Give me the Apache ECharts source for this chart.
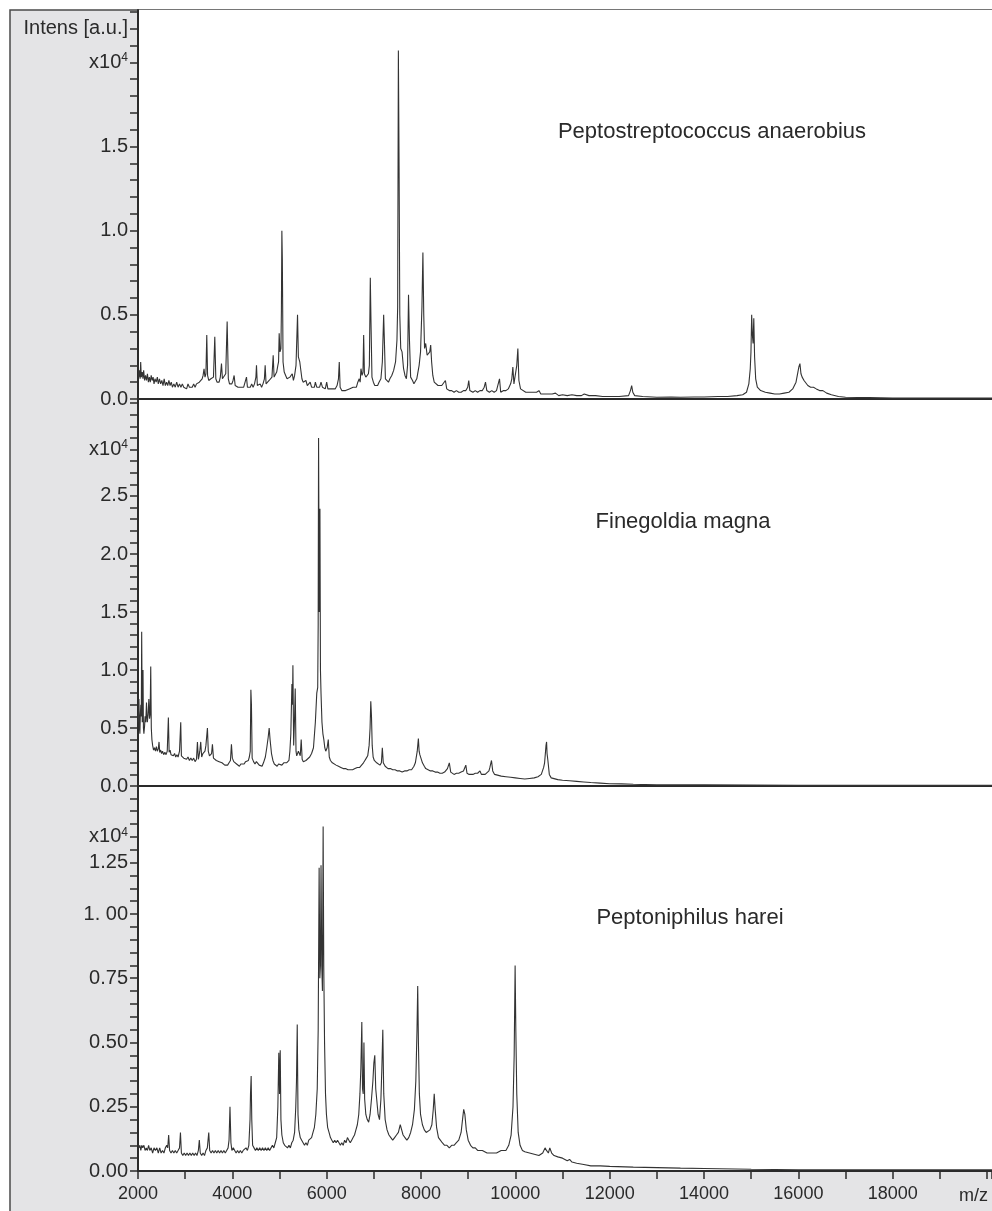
<!DOCTYPE html>
<html><head><meta charset="utf-8">
<script src="https://cdn.jsdelivr.net/npm/echarts@6/dist/echarts.min.js"></script>
<style>html,body{margin:0;padding:0;background:#fff}#c{width:992px;height:1211px}</style>
</head><body><div id="c"></div>
<script>
// intensities in units of 1e4 a.u., m/z on x
const speciesNames = ['Peptostreptococcus anaerobius', 'Finegoldia magna', 'Peptoniphilus harei'];

const spectrum1 = [[2000,0.20],[2015,0.13],[2030,0.17],[2045,0.12],[2057,0.22],[2070,0.13],[2090,0.16],[2105,0.12],[2120,0.17],[2140,0.11],[2160,0.14],[2180,0.11],[2200,0.15],[2220,0.10],[2240,0.13],[2260,0.10],[2280,0.14],[2300,0.11],[2320,0.13],[2340,0.09],[2360,0.12],[2385,0.10],[2410,0.13],[2430,0.09],[2455,0.12],[2480,0.09],[2505,0.11],[2530,0.08],[2555,0.12],[2580,0.08],[2605,0.10],[2630,0.08],[2655,0.11],[2680,0.08],[2705,0.10],[2730,0.07],[2760,0.09],[2790,0.07],[2820,0.10],[2850,0.07],[2880,0.09],[2910,0.07],[2940,0.09],[2970,0.07],[3000,0.08],[3030,0.06],[3060,0.09],[3090,0.07],[3120,0.08],[3150,0.07],[3180,0.09],[3210,0.07],[3240,0.09],[3270,0.08],[3300,0.10],[3330,0.09],[3360,0.12],[3380,0.14],[3400,0.18],[3420,0.13],[3440,0.15],[3458,0.38],[3475,0.14],[3500,0.11],[3520,0.10],[3545,0.12],[3570,0.11],[3600,0.13],[3628,0.37],[3650,0.12],[3675,0.10],[3700,0.11],[3720,0.10],[3745,0.13],[3770,0.21],[3790,0.12],[3820,0.11],[3860,0.15],[3890,0.46],[3915,0.12],[3940,0.09],[3965,0.10],[3990,0.09],[4015,0.11],[4038,0.14],[4060,0.08],[4090,0.09],[4120,0.07],[4150,0.08],[4180,0.07],[4210,0.08],[4240,0.07],[4270,0.08],[4300,0.13],[4320,0.07],[4350,0.08],[4380,0.07],[4410,0.09],[4440,0.07],[4470,0.09],[4500,0.13],[4512,0.20],[4530,0.08],[4560,0.07],[4590,0.09],[4620,0.07],[4650,0.09],[4680,0.12],[4696,0.20],[4715,0.09],[4745,0.10],[4780,0.11],[4810,0.10],[4840,0.13],[4866,0.26],[4885,0.13],[4910,0.14],[4940,0.16],[4965,0.20],[4980,0.22],[4993,0.39],[5010,0.28],[5030,0.30],[5040,0.52],[5050,1.00],[5060,0.83],[5075,0.22],[5100,0.16],[5130,0.14],[5160,0.12],[5190,0.11],[5220,0.13],[5245,0.12],[5270,0.15],[5295,0.11],[5320,0.14],[5350,0.20],[5382,0.50],[5400,0.25],[5430,0.22],[5454,0.23],[5475,0.12],[5500,0.10],[5530,0.09],[5560,0.11],[5590,0.08],[5620,0.09],[5650,0.10],[5680,0.07],[5710,0.08],[5740,0.07],[5760,0.10],[5790,0.07],[5820,0.08],[5850,0.07],[5880,0.10],[5910,0.07],[5940,0.08],[5970,0.06],[6000,0.10],[6025,0.06],[6060,0.05],[6100,0.06],[6140,0.05],[6180,0.06],[6220,0.08],[6250,0.12],[6267,0.22],[6285,0.07],[6320,0.05],[6360,0.06],[6400,0.05],[6440,0.05],[6480,0.06],[6520,0.05],[6560,0.07],[6600,0.08],[6630,0.07],[6660,0.10],[6690,0.12],[6710,0.10],[6727,0.18],[6750,0.14],[6770,0.16],[6784,0.38],[6800,0.15],[6830,0.13],[6860,0.12],[6885,0.15],[6905,0.20],[6925,0.72],[6940,0.45],[6960,0.13],[6990,0.10],[7020,0.08],[7050,0.09],[7080,0.08],[7110,0.10],[7150,0.12],[7180,0.22],[7208,0.50],[7225,0.33],[7245,0.12],[7280,0.11],[7310,0.10],[7340,0.12],[7380,0.14],[7420,0.17],[7460,0.22],[7490,0.35],[7505,0.55],[7520,2.07],[7535,1.38],[7550,0.50],[7570,0.30],[7598,0.28],[7630,0.18],[7660,0.14],[7690,0.12],[7715,0.20],[7735,0.62],[7755,0.35],[7780,0.13],[7820,0.11],[7850,0.09],[7880,0.10],[7910,0.12],[7960,0.20],[7990,0.28],[8020,0.55],[8040,0.87],[8058,0.50],[8075,0.30],[8099,0.33],[8130,0.26],[8160,0.25],[8185,0.28],[8205,0.32],[8225,0.22],[8250,0.14],[8280,0.10],[8320,0.09],[8360,0.08],[8400,0.07],[8440,0.08],[8480,0.08],[8517,0.11],[8545,0.06],[8600,0.05],[8650,0.05],[8700,0.04],[8750,0.05],[8800,0.04],[8850,0.04],[8900,0.05],[8950,0.05],[8990,0.07],[9012,0.11],[9035,0.05],[9100,0.04],[9150,0.05],[9200,0.04],[9250,0.05],[9300,0.05],[9340,0.07],[9367,0.10],[9395,0.05],[9450,0.04],[9500,0.05],[9550,0.04],[9600,0.05],[9640,0.06],[9664,0.12],[9690,0.04],[9750,0.05],[9800,0.05],[9850,0.06],[9900,0.09],[9925,0.12],[9947,0.19],[9970,0.09],[10000,0.10],[10030,0.20],[10053,0.30],[10075,0.11],[10110,0.06],[10150,0.05],[10220,0.04],[10300,0.04],[10380,0.04],[10450,0.04],[10500,0.05],[10540,0.03],[10620,0.03],[10700,0.03],[10780,0.03],[10850,0.035],[10875,0.04],[10920,0.02],[11000,0.025],[11100,0.02],[11200,0.025],[11300,0.02],[11400,0.02],[11460,0.03],[11500,0.03],[11560,0.02],[11700,0.02],[11850,0.015],[12000,0.015],[12200,0.015],[12400,0.02],[12440,0.05],[12466,0.08],[12490,0.04],[12530,0.02],[12700,0.015],[13000,0.01],[13300,0.012],[13500,0.01],[13800,0.012],[14000,0.012],[14300,0.015],[14500,0.015],[14700,0.02],[14820,0.025],[14900,0.04],[14950,0.09],[14980,0.18],[14995,0.28],[15010,0.50],[15025,0.38],[15040,0.33],[15055,0.48],[15072,0.25],[15095,0.12],[15130,0.07],[15200,0.05],[15300,0.04],[15400,0.035],[15500,0.03],[15600,0.03],[15700,0.035],[15800,0.04],[15880,0.06],[15950,0.10],[15990,0.16],[16010,0.19],[16033,0.21],[16055,0.15],[16080,0.13],[16120,0.11],[16160,0.10],[16200,0.08],[16260,0.07],[16320,0.07],[16380,0.06],[16450,0.05],[16520,0.05],[16600,0.035],[16700,0.025],[16850,0.015],[17000,0.01],[17500,0.008],[18000,0.005],[20000,0.005],[20200,0.005]];

const spectrum2 = [[2000,0.55],[2010,0.62],[2020,0.75],[2030,0.50],[2040,0.45],[2050,0.62],[2060,0.70],[2070,0.60],[2078,1.33],[2090,0.55],[2100,0.62],[2106,1.00],[2115,0.50],[2125,0.45],[2140,0.52],[2150,0.60],[2165,0.55],[2180,0.72],[2190,0.60],[2198,0.55],[2215,0.62],[2230,0.75],[2245,0.58],[2258,0.62],[2270,1.03],[2282,0.50],[2295,0.40],[2310,0.35],[2330,0.31],[2350,0.33],[2370,0.30],[2390,0.34],[2410,0.30],[2430,0.32],[2446,0.38],[2460,0.29],[2480,0.31],[2500,0.28],[2520,0.30],[2545,0.27],[2570,0.29],[2595,0.27],[2620,0.30],[2644,0.59],[2660,0.29],[2680,0.31],[2700,0.27],[2725,0.28],[2750,0.26],[2775,0.28],[2800,0.25],[2825,0.27],[2850,0.25],[2880,0.30],[2906,0.55],[2920,0.26],[2945,0.27],[2970,0.24],[3000,0.25],[3030,0.23],[3060,0.25],[3090,0.22],[3120,0.24],[3150,0.22],[3180,0.24],[3210,0.21],[3240,0.23],[3260,0.38],[3280,0.23],[3295,0.26],[3310,0.30],[3330,0.38],[3350,0.25],[3375,0.28],[3400,0.27],[3420,0.30],[3440,0.35],[3472,0.50],[3490,0.30],[3515,0.26],[3540,0.25],[3560,0.28],[3578,0.36],[3600,0.24],[3630,0.23],[3660,0.22],[3690,0.23],[3720,0.21],[3750,0.22],[3780,0.20],[3810,0.21],[3840,0.18],[3870,0.19],[3900,0.18],[3930,0.20],[3960,0.22],[3981,0.36],[4000,0.24],[4030,0.21],[4060,0.20],[4090,0.19],[4120,0.18],[4150,0.17],[4180,0.19],[4210,0.18],[4250,0.19],[4280,0.21],[4310,0.20],[4340,0.22],[4360,0.25],[4380,0.30],[4393,0.83],[4405,0.70],[4420,0.24],[4450,0.21],[4480,0.19],[4510,0.21],[4540,0.20],[4570,0.18],[4600,0.19],[4630,0.17],[4660,0.20],[4700,0.25],[4730,0.33],[4760,0.42],[4781,0.50],[4800,0.40],[4830,0.28],[4860,0.22],[4890,0.19],[4920,0.18],[4950,0.17],[4980,0.19],[5010,0.18],[5050,0.18],[5090,0.20],[5120,0.19],[5150,0.20],[5180,0.21],[5200,0.22],[5220,0.30],[5240,0.45],[5263,0.88],[5275,0.70],[5284,1.04],[5300,0.35],[5320,0.60],[5333,0.84],[5350,0.30],[5365,0.26],[5380,0.25],[5400,0.30],[5420,0.28],[5440,0.26],[5460,0.40],[5480,0.23],[5505,0.21],[5530,0.20],[5560,0.22],[5600,0.23],[5640,0.25],[5680,0.28],[5720,0.33],[5760,0.55],[5790,0.80],[5810,0.85],[5820,1.40],[5828,3.00],[5843,1.50],[5857,2.39],[5868,1.00],[5880,0.80],[5900,0.55],[5920,0.45],[5940,0.40],[5960,0.33],[5980,0.30],[6010,0.33],[6034,0.40],[6055,0.25],[6080,0.22],[6120,0.20],[6160,0.19],[6200,0.18],[6250,0.17],[6300,0.16],[6350,0.15],[6400,0.15],[6450,0.14],[6500,0.14],[6550,0.14],[6600,0.15],[6650,0.16],[6700,0.16],[6740,0.18],[6780,0.20],[6810,0.22],[6840,0.24],[6870,0.26],[6900,0.35],[6920,0.50],[6935,0.73],[6950,0.60],[6965,0.35],[6985,0.25],[7010,0.22],[7060,0.20],[7100,0.19],[7130,0.18],[7160,0.20],[7180,0.33],[7200,0.20],[7240,0.17],[7300,0.15],[7350,0.15],[7400,0.14],[7450,0.14],[7500,0.13],[7550,0.13],[7600,0.12],[7650,0.13],[7700,0.13],[7750,0.14],[7800,0.14],[7850,0.17],[7880,0.20],[7920,0.30],[7944,0.41],[7960,0.30],[7975,0.27],[8000,0.28],[8030,0.20],[8070,0.17],[8100,0.15],[8150,0.14],[8200,0.13],[8250,0.13],[8300,0.12],[8350,0.12],[8400,0.11],[8450,0.11],[8500,0.12],[8560,0.15],[8600,0.20],[8630,0.12],[8660,0.11],[8700,0.10],[8750,0.11],[8800,0.11],[8850,0.12],[8900,0.13],[8930,0.16],[8950,0.18],[8975,0.11],[9020,0.10],[9100,0.10],[9150,0.11],[9200,0.11],[9250,0.13],[9280,0.10],[9320,0.09],[9360,0.10],[9400,0.10],[9440,0.13],[9460,0.16],[9494,0.22],[9520,0.13],[9560,0.10],[9600,0.09],[9700,0.085],[9800,0.08],[9900,0.075],[10000,0.07],[10100,0.065],[10200,0.06],[10300,0.065],[10400,0.07],[10480,0.08],[10550,0.10],[10600,0.16],[10620,0.20],[10640,0.30],[10650,0.35],[10662,0.38],[10672,0.28],[10690,0.22],[10720,0.10],[10760,0.07],[10800,0.06],[10900,0.055],[11000,0.05],[11150,0.045],[11300,0.04],[11450,0.035],[11600,0.03],[11800,0.025],[12000,0.02],[12250,0.018],[12500,0.015],[13000,0.01],[14000,0.01],[16000,0.005],[20000,0.005],[20200,0.005]];

const spectrum3 = [[2000,0.10],[2020,0.09],[2040,0.10],[2060,0.08],[2080,0.10],[2100,0.09],[2125,0.10],[2150,0.08],[2175,0.09],[2200,0.08],[2225,0.10],[2250,0.08],[2280,0.09],[2310,0.07],[2340,0.09],[2370,0.08],[2400,0.09],[2430,0.07],[2460,0.09],[2490,0.07],[2520,0.08],[2550,0.07],[2580,0.09],[2610,0.10],[2630,0.09],[2650,0.14],[2670,0.08],[2700,0.07],[2730,0.08],[2760,0.07],[2790,0.08],[2820,0.07],[2850,0.08],[2880,0.09],[2900,0.15],[2920,0.07],[2950,0.06],[2980,0.07],[3010,0.06],[3040,0.07],[3070,0.06],[3100,0.07],[3130,0.06],[3160,0.07],[3190,0.06],[3220,0.07],[3250,0.06],[3280,0.08],[3300,0.12],[3320,0.07],[3350,0.06],[3380,0.07],[3410,0.06],[3440,0.08],[3470,0.09],[3500,0.15],[3520,0.08],[3550,0.07],[3580,0.08],[3610,0.07],[3640,0.08],[3670,0.07],[3700,0.08],[3730,0.07],[3760,0.08],[3790,0.07],[3820,0.08],[3850,0.07],[3880,0.08],[3910,0.09],[3930,0.12],[3950,0.25],[3970,0.11],[3990,0.08],[4020,0.09],[4050,0.08],[4080,0.07],[4110,0.08],[4140,0.07],[4170,0.08],[4200,0.07],[4230,0.08],[4260,0.08],[4290,0.09],[4320,0.08],[4350,0.10],[4375,0.20],[4385,0.30],[4399,0.37],[4412,0.20],[4430,0.10],[4460,0.09],[4490,0.08],[4520,0.09],[4550,0.08],[4580,0.09],[4610,0.08],[4640,0.09],[4670,0.08],[4700,0.09],[4730,0.08],[4760,0.09],[4790,0.08],[4820,0.09],[4850,0.10],[4880,0.09],[4910,0.11],[4940,0.13],[4965,0.25],[4985,0.46],[5000,0.30],[5015,0.47],[5030,0.20],[5050,0.14],[5080,0.11],[5110,0.10],[5140,0.10],[5170,0.09],[5200,0.10],[5230,0.09],[5260,0.11],[5290,0.12],[5320,0.15],[5345,0.25],[5360,0.35],[5376,0.57],[5392,0.22],[5410,0.16],[5440,0.13],[5470,0.12],[5500,0.11],[5530,0.10],[5560,0.11],[5590,0.10],[5620,0.12],[5650,0.12],[5680,0.13],[5710,0.15],[5740,0.17],[5770,0.22],[5800,0.32],[5820,0.55],[5840,1.18],[5855,0.75],[5868,0.80],[5880,1.19],[5896,0.80],[5910,0.70],[5925,1.34],[5938,0.80],[5955,0.50],[5975,0.30],[5995,0.22],[6020,0.17],[6050,0.15],[6080,0.13],[6110,0.12],[6140,0.11],[6170,0.12],[6200,0.11],[6230,0.12],[6260,0.11],[6290,0.10],[6320,0.11],[6350,0.10],[6380,0.12],[6410,0.11],[6440,0.13],[6470,0.12],[6500,0.11],[6530,0.12],[6560,0.13],[6590,0.14],[6620,0.16],[6650,0.18],[6680,0.22],[6705,0.30],[6725,0.40],[6745,0.58],[6760,0.32],[6775,0.30],[6790,0.50],[6805,0.28],[6830,0.22],[6860,0.20],[6890,0.19],[6920,0.22],[6950,0.28],[6980,0.35],[7000,0.42],[7020,0.45],[7040,0.32],[7060,0.28],[7090,0.22],[7120,0.20],[7150,0.28],[7170,0.40],[7190,0.55],[7210,0.30],[7240,0.20],[7280,0.16],[7320,0.14],[7360,0.13],[7400,0.12],[7440,0.13],[7480,0.14],[7520,0.15],[7560,0.18],[7590,0.16],[7620,0.14],[7660,0.13],[7700,0.12],[7740,0.13],[7780,0.15],[7820,0.18],[7860,0.24],[7890,0.35],[7915,0.55],[7930,0.72],[7945,0.50],[7965,0.30],[7990,0.22],[8030,0.18],[8070,0.16],[8110,0.15],[8150,0.15],[8190,0.16],[8230,0.18],[8260,0.24],[8280,0.30],[8300,0.24],[8330,0.17],[8370,0.13],[8410,0.12],[8450,0.11],[8500,0.10],[8550,0.10],[8600,0.09],[8650,0.10],[8700,0.10],[8750,0.11],[8800,0.12],[8850,0.15],[8880,0.20],[8905,0.24],[8930,0.22],[8960,0.16],[9000,0.12],[9050,0.10],[9100,0.09],[9150,0.09],[9200,0.08],[9300,0.08],[9400,0.07],[9500,0.07],[9600,0.07],[9700,0.08],[9800,0.08],[9860,0.10],[9910,0.14],[9950,0.25],[9975,0.45],[9995,0.80],[10010,0.55],[10030,0.30],[10060,0.15],[10100,0.10],[10150,0.08],[10200,0.075],[10300,0.07],[10400,0.065],[10500,0.06],[10580,0.07],[10630,0.09],[10660,0.08],[10700,0.07],[10730,0.09],[10770,0.07],[10820,0.06],[10900,0.055],[11000,0.05],[11100,0.04],[11150,0.045],[11200,0.035],[11300,0.03],[11450,0.025],[11600,0.02],[11800,0.02],[12000,0.018],[12500,0.015],[13000,0.013],[13500,0.011],[14000,0.01],[15000,0.007],[16000,0.005],[20000,0.005],[20200,0.005]];

// axis ticks / labels (values in 1e4 units)
const yTicks1 = [0,0.1,0.2,0.3,0.4,0.5,0.6,0.7,0.8,0.9,1.0,1.1,1.2,1.3,1.4,1.5,1.6,1.7,1.8,1.9,2.0,2.1,2.2,2.3];
const yLabelVals1 = [0,0.5,1.0,1.5,2.0,2.2];
const yLabelText1 = ['0.0','0.5','1.0','1.5','{a|x10}{s|4}','Intens [a.u.]'];
const yTicks2 = [0,0.1,0.2,0.3,0.4,0.5,0.6,0.7,0.8,0.9,1.0,1.1,1.2,1.3,1.4,1.5,1.6,1.7,1.8,1.9,2.0,2.1,2.2,2.3,2.4,2.5,2.6,2.7,2.8,2.9,3.0,3.1,3.2,3.3];
const yLabelVals2 = [0,0.5,1.0,1.5,2.0,2.5,2.9];
const yLabelText2 = ['0.0','0.5','1.0','1.5','2.0','2.5','{a|x10}{s|4}'];
const yTicks3 = [0,0.05,0.1,0.15,0.2,0.25,0.3,0.35,0.4,0.45,0.5,0.55,0.6,0.65,0.7,0.75,0.8,0.85,0.9,0.95,1.0,1.05,1.1,1.15,1.2,1.25,1.3,1.35,1.4,1.45];
const yLabelVals3 = [0,0.25,0.5,0.75,1.0,1.2,1.3];
const yLabelText3 = ['0.00','0.25','0.50','0.75','1. 00','1.25','{a|x10}{s|4}'];
const xLabelVals = [2000,4000,6000,8000,10000,12000,14000,16000,18000];
const xAxisName = 'm/z';

const FONT = 'Liberation Sans, Arial, Helvetica, sans-serif';
const INK = '#2a2a2a';

const grids = [
  {left:138, right:0, top:10, height:389},
  {left:138, right:0, top:399, height:387},
  {left:138, right:0, top:786, height:385}
];
const yMax = [2.311, 3.336, 1.498];
const xMin = 2000, xMax = 20105;

function yAxisFor(i, ticks, vals, texts) {
  return {
    type:'value', gridIndex:i, min:0, max:yMax[i],
    splitLine:{show:false},
    axisLine:{show:true, lineStyle:{color:INK, width:2}},
    axisTick:{show:true, inside:false, length:8, customValues:ticks, lineStyle:{color:INK, width:1.5}},
    axisLabel:{show:true, customValues:vals, margin:10, color:INK, fontSize:20, fontFamily:FONT,
      formatter:function(v){ for (let k=0;k<vals.length;k++){ if (Math.abs(vals[k]-v)<1e-6) return texts[k]; } return ''; },
      rich:{ a:{fontSize:20, fontFamily:FONT, color:INK}, s:{fontSize:12, fontFamily:FONT, color:INK, verticalAlign:'top', padding:[0,0,9,0]} }
    }
  };
}

function xAxisFor(i, showLabels) {
  return {
    type:'value', gridIndex:i, min:xMin, max:xMax, interval:1000,
    splitLine:{show:false},
    axisLine:{show:true, onZero:false, lineStyle:{color:INK, width:2}},
    axisTick:{show:showLabels, length:8, lineStyle:{color:INK, width:1.5}},
    axisLabel:{show:showLabels, customValues:xLabelVals, margin:14, color:INK, fontSize:18, fontFamily:FONT,
      formatter:function(v){ return String(Math.round(v)); }}
  };
}

const chart = echarts.init(document.getElementById('c'), null, {renderer:'canvas'});
chart.setOption({
  animation:false,
  backgroundColor:'#ffffff',
  graphic:[
    {type:'rect', z:-10, shape:{x:10, y:10, width:1000, height:1230}, style:{fill:'#e4e4e6', stroke:'#4a4a4a', lineWidth:1.5}},
    {type:'text', z:10, style:{text:speciesNames[0], x:712, y:132, fill:INK, font:'22px ' + FONT, textAlign:'center', textVerticalAlign:'middle'}},
    {type:'text', z:10, style:{text:speciesNames[1], x:683, y:522, fill:INK, font:'22px ' + FONT, textAlign:'center', textVerticalAlign:'middle'}},
    {type:'text', z:10, style:{text:speciesNames[2], x:690, y:918, fill:INK, font:'22px ' + FONT, textAlign:'center', textVerticalAlign:'middle'}},
    {type:'text', z:10, style:{text:xAxisName, x:988, y:1196, fill:INK, font:'18px ' + FONT, textAlign:'right', textVerticalAlign:'middle'}}
  ],
  grid: grids.map(g => Object.assign({show:true, backgroundColor:'#ffffff', borderWidth:0}, g)),
  xAxis:[xAxisFor(0,false), xAxisFor(1,false), xAxisFor(2,true)],
  yAxis:[yAxisFor(0,yTicks1,yLabelVals1,yLabelText1), yAxisFor(1,yTicks2,yLabelVals2,yLabelText2), yAxisFor(2,yTicks3,yLabelVals3,yLabelText3)],
  series:[spectrum1, spectrum2, spectrum3].map((d,i)=>({
    type:'line', xAxisIndex:i, yAxisIndex:i, data:d, showSymbol:false, symbol:'none',
    lineStyle:{color:'#333333', width:1.1}, sampling:null, clip:true, silent:true
  }))
});
</script>
</body></html>
